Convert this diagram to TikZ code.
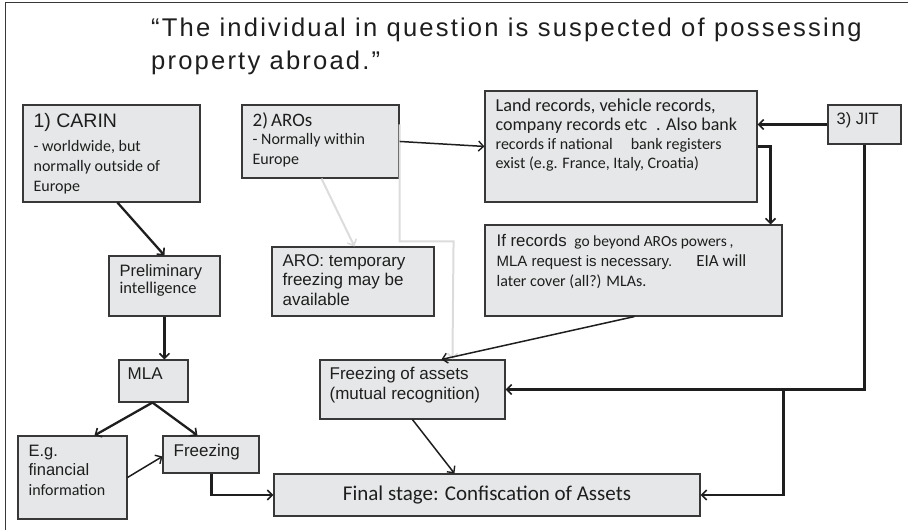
\documentclass[tikz,border=0pt]{standalone}
\usepackage{fontspec}
\usetikzlibrary{arrows.meta,fit}
\newfontfamily\arifam{Liberation Sans}
\newfontfamily\calfam{Carlito}
\newfontfamily\titfam{Liberation Sans}[LetterSpace=8.5]
\newcommand\AF[1]{\arifam\fontsize{#1pt}{#1pt}\selectfont}
\newcommand\CF[1]{\calfam\fontsize{#1pt}{#1pt}\selectfont}
\newcommand\TF{\titfam\fontsize{25.6pt}{25.6pt}\selectfont}
\newcommand\tlines[2]{\vtop{\baselineskip=#1\lineskiplimit=-\maxdimen\lineskip=0pt\halign{##\hfil\cr#2\crcr}}}
\definecolor{boxfill}{HTML}{E6E7E8}
\definecolor{boxline}{HTML}{383838}
\definecolor{ink}{HTML}{1E1E1E}
\definecolor{pale}{HTML}{DCDCDC}
\tikzset{
  box/.style={draw=boxline, fill=boxfill, line width=1.1pt, inner sep=0pt},
  lbl/.style={anchor=base west, inner sep=0pt, text=ink},
  thk/.style={draw=ink, line width=2.3pt, -{Straight Barb[length=5pt,width=10pt,line width=1.6pt]}},
  thn/.style={draw=ink, line width=1.5pt, -{Straight Barb[length=5pt,width=10pt,line width=1.4pt]}},
  gry/.style={draw=pale, line width=2pt, -{Straight Barb[length=5pt,width=10pt,line width=1.6pt]}},
  frame/.style={draw=boxline, line width=1pt}
}
\begin{document}
\begin{tikzpicture}[x=1pt,y=-1pt]
\useasboundingbox (0,0) rectangle (908,530);
\draw[frame] (5,530) -- (5,2) -- (908,2);

\node[anchor=base west, inner sep=0pt, text=ink] (title) at (151,36.5)
  {\tlines{33pt}{\TF “The individual in question is suspected of possessing\cr \TF property abroad.”}};

\node[box, fit={(23,105) (200,202)}, label={[lbl, xshift=11pt, yshift=-23pt]north west:{\tlines{20pt}{\AF{19.5}1) CARIN\cr\noalign{\kern3.7pt}\CF{16}- worldwide, but\cr\CF{16}normally outside of\cr\CF{16}Europe}}}] (carin) {};

\node[box, fit={(242,105) (399,178)}, label={[lbl, xshift=11pt, yshift=-22pt]north west:{\tlines{19.5pt}{\CF{19}2)\,AROs\cr\noalign{\kern-1.2pt}\CF{16}- Normally within\cr\CF{16}Europe}}}] (aros) {};

\node[box, fit={(485,91) (757,202)}, label={[lbl, xshift=11pt, yshift=-21pt]north west:{\tlines{19pt}{\CF{18.3}Land records, vehicle records,\cr\CF{18}company records etc\hspace{9pt}. Also bank\cr\CF{16}records if national\hspace{18pt}bank registers\cr\CF{16}exist (e.g. France, Italy, Croatia)}}}] (land) {};

\node[box, fit={(828,105) (901,144)}, label={[lbl, xshift=9pt, yshift=-20pt]north west:{\AF{16.5}3) JIT}}] (jit) {};

\node[box, fit={(485,225) (782,316)}, label={[lbl, xshift=12pt, yshift=-22pt]north west:{\tlines{20pt}{\AF{16.8}If records\hspace{3pt} \CF{15.5}go beyond AROs powers\,,\cr\AF{15}MLA request is necessary.\hspace{24pt}\CF{17}EIA will\cr\CF{16}later cover (all?) MLAs.}}}] (ifrec) {};

\node[box, fit={(272,247) (434,316)}, label={[lbl, xshift=11pt, yshift=-20pt]north west:{\tlines{19.5pt}{\AF{17}ARO: temporary\cr\AF{17}freezing may be\cr\AF{17}available}}}] (arotemp) {};

\node[box, fit={(109,256) (220,316)}, label={[lbl, xshift=11pt, yshift=-21pt]north west:{\tlines{17pt}{\AF{16.5}Preliminary\cr\CF{16.5}intelligence}}}] (prelim) {};

\node[box, fit={(119,360) (188,402)}, label={[lbl, xshift=9pt, yshift=-20pt]north west:{\AF{17}MLA}}] (mla) {};

\node[box, fit={(18,436) (127,519)}, label={[lbl, xshift=11pt, yshift=-21pt]north west:{\tlines{19.5pt}{\AF{16.5}E.g.\cr\AF{16.5}financial\cr\CF{16}information}}}] (eg) {};

\node[box, fit={(163,436) (259,473)}, label={[lbl, xshift=11pt, yshift=-21pt]north west:{\AF{17}Freezing}}] (frz) {};

\node[box, fit={(320,360) (505,419)}, label={[lbl, xshift=10pt, yshift=-20pt]north west:{\tlines{20pt}{\AF{17}Freezing of assets\cr\AF{17}(mutual\hspace{5pt}recognition)}}}] (fa) {};

\node[box, fit={(274,474) (700,516)}, label={[inner sep=0pt, text=ink, anchor=center]center:{\CF{21}Final stage: Confiscation of Assets}}] (final) {};

% pale connectors
\draw[gry] ([xshift=80pt]aros.south west) -- ([xshift=83pt]arotemp.north west);
\draw[gry] ([yshift=-20pt]aros.north east) -- ++(0,117) -- ++(54,0) -- ([xshift=133pt]fa.north west);

% dark connectors
\draw[thk] ([xshift=95pt]carin.south west) -- ([xshift=56pt]prelim.north west);
\draw[thk] ([xshift=56pt]prelim.south west) -- ([xshift=46pt]mla.north west);
\draw[thk] ([xshift=34pt]mla.south west) -- ([xshift=77pt]eg.north west);
\draw[thk] ([xshift=34pt]mla.south west) -- ([xshift=35pt]frz.north west);
\draw[thn] ([yshift=-42pt]eg.north east) -- ([yshift=-21pt]frz.north west);
\draw[thk] ([xshift=49pt]frz.south west) |- (final.west);
\draw[thn] ([yshift=-37pt]aros.north east) -- ([yshift=-56pt]land.north west);
\draw[thk] ([yshift=-20pt]jit.north west) -- ([yshift=-34pt]land.north east);
\draw[thk] ([yshift=-56pt]land.north east) -| ([xshift=-12pt]ifrec.north east);
\draw[thn] ([xshift=150pt]ifrec.south west) -- ([xshift=122pt]fa.north west);
\draw[thk] ([xshift=37pt]jit.south west) |- (fa.east);
\coordinate (br) at ([xshift=278pt]fa.east);
\draw[thk] (br) |- (final.east);
\draw[thn] ([xshift=93pt]fa.south west) -- ([xshift=181pt]final.north west);
\end{tikzpicture}
\end{document}
